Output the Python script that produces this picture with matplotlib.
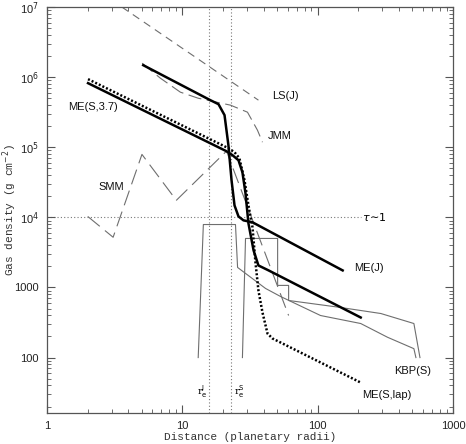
import matplotlib
matplotlib.use('Agg')
import matplotlib.pyplot as plt
from matplotlib.ticker import FixedLocator, LogLocator, NullFormatter
import numpy as np

plt.rcParams.update({
    'font.family': 'sans-serif',
    'font.sans-serif': ['Liberation Sans', 'DejaVu Sans'],
})

# ── data ──────────────────────────────────────────────────────
# thick solid: ME(J)
mej_x = [5.14, 16.1, 18.5, 20.5, 21.9, 23.1, 24.3, 26.0, 28.3, 33.0, 153]
mej_y = [1.48e6, 4.69e5, 4.11e5, 2.87e5, 1.07e5, 3.38e4, 1.48e4, 1.03e4, 9.06e3, 8.5e3, 1.75e3]

# thick solid: ME(S,3.7)
mes37_x = [2.01, 21.2, 23.5, 26.0, 27.8, 29.3, 30.8, 33.6, 36.5, 43.4, 208]
mes37_y = [8.2e5, 8.77e4, 7.69e4, 6.52e4, 4.39e4, 2.2e4, 8.2e3, 3.38e3, 2.06e3, 1.75e3, 373]

# thick dotted: ME(S,lap)
meslap_x = [2.01, 21.9, 24.3, 26.4, 28.8, 30.8, 33.0, 34.7, 36.5, 39.1, 42.6, 46.4, 53.2, 208]
meslap_y = [9.36e5, 9.68e4, 8.49e4, 6.96e4, 3.38e4, 1.48e4, 7.2e3, 2.28e3, 906, 440, 220, 187, 164, 44]

# dashed: JMM, LS(J), SMM
jmm_x = [5.05, 6.87, 9.67, 13.1, 22.7, 30.3, 35.9, 39.1]
jmm_y = [1.58e6, 9.68e5, 6.1e5, 5.0e5, 3.98e5, 3.16e5, 1.75e5, 1.18e5]

lsj_x = [3.57, 36.5]
lsj_y = [1.0e7, 4.69e5]

smm_x = [2.0, 3.08, 5.03, 9.03, 21.2, 61]
smm_y = [1.03e4, 5.2e3, 7.9e4, 1.75e4, 8.8e4, 398]

# thin gray: KBP(S) profiles
kbpa_x = [13.1, 14.3, 24.7, 25.6, 41.2, 53.2, 105, 208, 328, 514, 532]
kbpa_y = [100, 7.9e3, 7.9e3, 1.93e3, 968, 743, 398, 306, 195, 134, 100]

kbpb_x = [27.8, 29.3, 50.6, 50.6, 61, 61, 148, 293, 514, 570]
kbpb_y = [100, 5.0e3, 5.0e3, 1.07e3, 1.07e3, 652, 518, 425, 306, 100]

# reference markers
re_j = 15.8
re_s = 22.7
tau_y = 1e4
tau_xmax = 208

x_ticks = [1, 10, 100, 1000]
x_ticklabels = ['1', '10', '100', '1000']
y_ticks = [100, 1000, 1e4, 1e5, 1e6, 1e7]
y_ticklabels = ['100', '1000', r'10$^4$', r'10$^5$', r'10$^6$', r'10$^7$']

# ── figure ───────────────────────────────────────────────────
fig = plt.figure(figsize=(4.66, 4.44), dpi=100)
ax = fig.add_axes([47 / 466, 1 - 413 / 444, 406 / 466, 406 / 444])
ax.set_xscale('log')
ax.set_yscale('log')
ax.set_xlim(1, 1000)
ax.set_ylim(16.2, 1e7)

GRAY = '#6e6e6e'
DOT = '#777777'

# reference dotted lines
ax.axvline(re_j, color=DOT, lw=0.8, ls=(0, (1, 2)), zorder=1)
ax.axvline(re_s, color=DOT, lw=0.8, ls=(0, (1, 2)), zorder=1)
ax.plot([1, tau_xmax], [tau_y, tau_y], color=DOT, lw=0.8, ls=(0, (1, 2)), zorder=1)

# thin gray profiles
ax.plot(kbpa_x, kbpa_y, color=GRAY, lw=0.8, zorder=2)
ax.plot(kbpb_x, kbpb_y, color=GRAY, lw=0.8, zorder=2)

# dashed profiles
ax.plot(lsj_x, lsj_y, color=GRAY, lw=0.8, ls=(0, (7, 5)), zorder=2)
ax.plot(jmm_x, jmm_y, color=GRAY, lw=0.8, ls=(0, (12, 5)), zorder=2)
ax.plot(smm_x, smm_y, color=GRAY, lw=0.8, ls=(0, (14, 6)), zorder=2)

# thick model curves
ax.plot(mej_x, mej_y, color='black', lw=1.8, zorder=3)
ax.plot(mes37_x, mes37_y, color='black', lw=1.8, zorder=3)
ax.plot(meslap_x, meslap_y, color='black', lw=1.8, ls=(0, (0.8, 0.8)), zorder=3)

# ── labels on curves ─────────────────────────────────────────
lab = dict(fontsize=8, ha='center', va='center', color='#111111')
ax.text(2.19, 3.73e5, 'ME(S,3.7)', **lab)
ax.text(2.98, 2.68e4, 'SMM', **lab)
ax.text(57.9, 5.35e5, 'LS(J)', **lab)
ax.text(52.3, 1.44e5, 'JMM', **lab)
ax.text(239, 1.87e3, 'ME(J)', **lab)
ax.text(506, 65.2, 'KBP(S)', **lab)
ax.text(324, 29.6, 'ME(S,lap)', **lab)
ax.text(264, 1.0e4, r'$\tau\!\sim\!1$', fontsize=8, ha='center', va='center',
        family='DejaVu Serif')
ax.text(14.1, 32.7, r'r$_\mathrm{e}^\mathrm{J}$', fontsize=7, ha='center', va='center',
        family='DejaVu Serif')
ax.text(26.4, 32.7, r'r$_\mathrm{e}^\mathrm{S}$', fontsize=7, ha='center', va='center',
        family='DejaVu Serif')

# ── axes styling ─────────────────────────────────────────────
for sp in ax.spines.values():
    sp.set_color('#555555')
    sp.set_linewidth(0.9)

ax.xaxis.set_major_locator(FixedLocator(x_ticks))
ax.xaxis.set_minor_locator(LogLocator(base=10, subs=np.arange(2, 10), numticks=10))
ax.xaxis.set_minor_formatter(NullFormatter())
ax.set_xticklabels(x_ticklabels)
ax.yaxis.set_major_locator(FixedLocator(y_ticks))
ax.yaxis.set_minor_locator(LogLocator(base=10, subs=np.arange(2, 10), numticks=10))
ax.yaxis.set_minor_formatter(NullFormatter())
ax.set_yticklabels(y_ticklabels)

ax.tick_params(which='both', direction='in', top=True, right=True, color='#555555',
               labelsize=8, labelcolor='#222222')
ax.tick_params(which='major', length=6, width=0.8, pad=6)
ax.tick_params(which='minor', length=3, width=0.6)

fig.text(250 / 466, 1 - 437 / 444, 'Distance (planetary radii)', ha='center', va='center',
         fontsize=8, family='Liberation Mono', color='#333333')
fig.text(10 / 466, 1 - 210 / 444, r'Gas density (g cm$^{-2}$)', ha='center', va='center',
         rotation=90, fontsize=8, family='Liberation Mono', color='#333333')

fig.savefig('out.png', dpi=100, facecolor='white')
plt.close(fig)
